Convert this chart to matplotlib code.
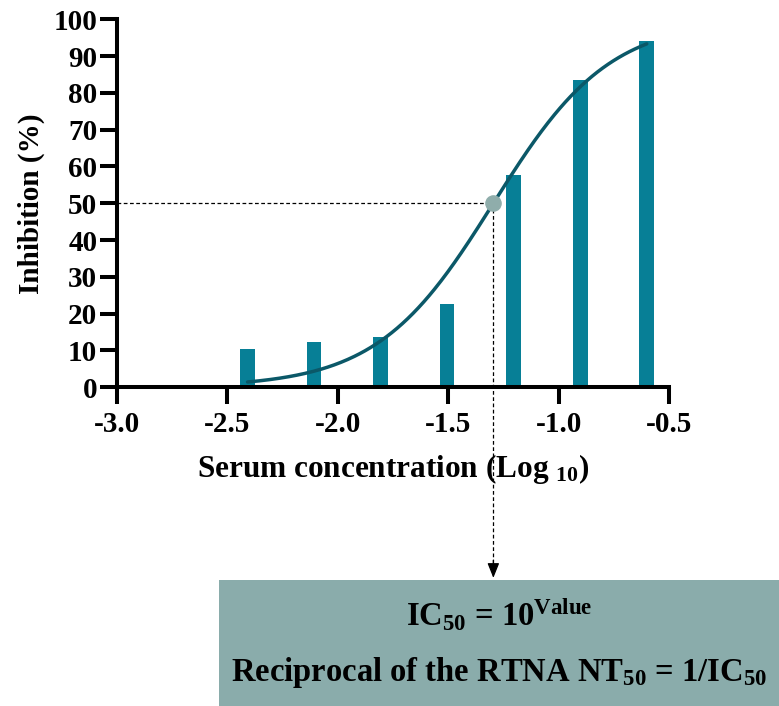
import numpy as np
import matplotlib
matplotlib.use("Agg")
import matplotlib.pyplot as plt
from matplotlib.patches import Rectangle

# ---- data ----
log_conc = [-2.408, -2.107, -1.806, -1.505, -1.204, -0.903, -0.602]
inhibition = [10.5, 12.2, 13.7, 22.6, 57.7, 83.6, 94.2]
# 4PL fit parameters
fit_bottom = 0.0
fit_top = 100.0
fit_logic50 = -1.296
fit_hill = 1.65
ic50_x = -1.296
ic50_y = 50.0
x_ticks = [-3.0, -2.5, -2.0, -1.5, -1.0, -0.5]
y_ticks = [0, 10, 20, 30, 40, 50, 60, 70, 80, 90, 100]

plt.rcParams['font.family'] = ['Liberation Serif', 'DejaVu Serif']
plt.rcParams['font.weight'] = 'bold'
plt.rcParams['mathtext.fontset'] = 'custom'
plt.rcParams['mathtext.rm'] = 'Liberation Serif:bold'
plt.rcParams['mathtext.it'] = 'Liberation Serif:bold'
plt.rcParams['mathtext.bf'] = 'Liberation Serif:bold'

W, H = 779, 706
fig = plt.figure(figsize=(W / 100, H / 100), dpi=100)
ax = fig.add_axes([116.7 / W, 1 - 387.3 / H, (669.3 - 116.7) / W, (387.3 - 19.3) / H])

bar_color = '#077f96'
curve_color = '#0b5868'

ax.bar(log_conc, inhibition, width=0.066, color=bar_color, zorder=2)

xc = np.linspace(log_conc[0], log_conc[-1], 300)
yc = fit_bottom + (fit_top - fit_bottom) / (1 + 10 ** ((fit_logic50 - xc) * fit_hill))
ax.plot(xc, yc, color=curve_color, lw=2.5, zorder=3, solid_capstyle='round')

# dashed guides
ax.plot([-3.0, ic50_x], [ic50_y, ic50_y], ls=(0, (3, 2)), color='black', lw=0.9, zorder=1)
ax.plot([ic50_x, ic50_x], [ic50_y, -48.0], ls=(0, (3, 2)), color='black', lw=0.9,
        zorder=1, clip_on=False)
ax.annotate('', xy=(ic50_x, -51.8), xytext=(ic50_x, -47.0),
            arrowprops=dict(arrowstyle='-|>,head_length=0.9,head_width=0.36',
                            color='black', lw=0.9, shrinkA=0, shrinkB=0),
            annotation_clip=False)
ax.scatter([ic50_x], [ic50_y], s=120, color='#8fadab', zorder=4, clip_on=False)

ax.set_xlim(-3.0, -0.5)
ax.set_ylim(0, 100)
ax.set_xticks(x_ticks)
ax.set_xticklabels([f"{v:.1f}" for v in x_ticks])
ax.set_yticks(y_ticks)
ax.set_yticklabels([str(v) for v in y_ticks])

for s in ['top', 'right']:
    ax.spines[s].set_visible(False)
for s in ['left', 'bottom']:
    ax.spines[s].set_linewidth(2.9)
ax.tick_params(axis='both', width=2.9, length=12, labelsize=21)
ax.tick_params(axis='x', pad=5)
ax.tick_params(axis='y', pad=2)
for lab in ax.get_xticklabels() + ax.get_yticklabels():
    lab.set_fontweight('bold')

ax.set_ylabel('Inhibition (%)', fontsize=21, fontweight='bold', labelpad=6)
ax.set_xlabel(r'Serum concentration (Log $_{10}$)', fontsize=22.5, fontweight='bold', labelpad=10)

# box
fig.patches.append(Rectangle((219 / W, 0), 1 - 219 / W, (706 - 580) / H,
                             transform=fig.transFigure, facecolor='#8aacab',
                             edgecolor='none', zorder=0))
cx = (219 + 779) / 2 / W
fig.text(cx, 1 - 615 / H, r'IC$_{50}$ = 10$^{\mathrm{Value}}$', ha='center', va='center',
         fontsize=23.5, fontweight='bold')
fig.text(cx, 1 - 672 / H, r'Reciprocal of the RTNA NT$_{50}$ = 1/IC$_{50}$', ha='center',
         va='center', fontsize=23.5, fontweight='bold')

fig.savefig('out.png', dpi=100)
